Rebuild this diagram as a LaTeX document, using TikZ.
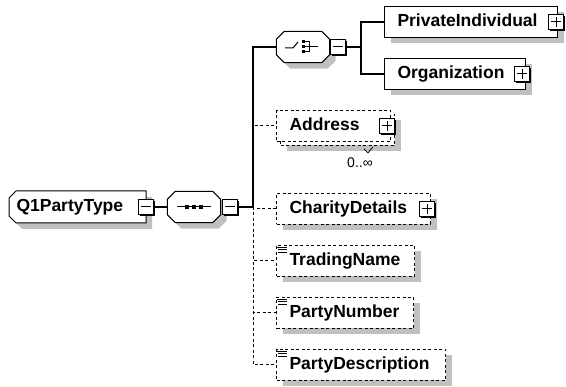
\documentclass[tikz,border=0pt]{standalone}
\usepackage{fontspec}
\setmainfont{Liberation Sans}
\usetikzlibrary{shadows,backgrounds}

\definecolor{shadowGray}{RGB}{192,192,192}

\tikzset{
  boxbase/.style={draw, fill=white, line width=1pt, rectangle, anchor=west,
    minimum height=31pt, inner xsep=13pt, inner ysep=0pt, align=left,
    text height=12.5pt, text depth=3.5pt, font=\bfseries\fontsize{17.5}{19}\selectfont},
  elem/.style={boxbase, general shadow={fill=shadowGray, shadow xshift=6pt, shadow yshift=-6pt}},
  optelem/.style={elem, dash pattern=on 3pt off 2.5pt},
  multielem/.style={boxbase, dash pattern=on 3pt off 2.5pt,
    general shadow={fill=shadowGray, shadow xshift=10pt, shadow yshift=-10pt},
    general shadow={draw, fill=white, shadow xshift=4pt, shadow yshift=-4pt}},
  typebox/.style={boxbase, draw=none, fill=none, inner xsep=7pt},
  compbox/.style={rectangle, minimum width=53pt, minimum height=31pt, inner sep=0pt},
  compshape/.style={draw, fill=white, line width=1pt,
    general shadow={fill=shadowGray, shadow xshift=6pt, shadow yshift=-6pt}},
  pmbox/.style={draw, fill=white, line width=1pt, minimum size=14.5pt, inner sep=0pt,
    general shadow={fill=black, shadow xshift=1.5pt, shadow yshift=-1.5pt}},
  minusbox/.style={pmbox, path picture={
    \draw ([xshift=2.5pt]path picture bounding box.west) -- ([xshift=-2.5pt]path picture bounding box.east);}},
  plusbox/.style={pmbox, path picture={
    \draw ([xshift=2.5pt]path picture bounding box.west) -- ([xshift=-2.5pt]path picture bounding box.east);
    \draw ([yshift=-2.5pt]path picture bounding box.north) -- ([yshift=2.5pt]path picture bounding box.south);}},
  conn/.style={line width=1.2pt},
  optconn/.style={line width=1pt, dash pattern=on 3pt off 2.5pt}
}

% outline with cut corners: node, left cut, right cut
\newcommand\octagon[3]{%
  \draw[compshape] ([xshift=#2]#1.north west) -- ([xshift=-#3]#1.north east)
    -- ([yshift=-#3]#1.north east) -- ([yshift=#3]#1.south east)
    -- ([xshift=-#3]#1.south east) -- ([xshift=#2]#1.south west)
    -- ([yshift=#2]#1.south west) -- ([yshift=-#2]#1.north west) -- cycle;}

% text content mark in the top left corner
\newcommand\txtmark[1]{%
  \draw[line width=0.8pt] ([shift={(1pt,-2pt)}]#1.north west) -- ++(10,0);
  \draw[line width=0.8pt] ([shift={(2pt,-4.5pt)}]#1.north west) -- ++(9,0);
  \draw[line width=0.8pt] ([shift={(2pt,-7pt)}]#1.north west) -- ++(9,0);}

\begin{document}
\begin{tikzpicture}[x=1pt, y=-1pt]
  \useasboundingbox (0,0) rectangle (566,387);
  % Root type
  \node[typebox, text width=122pt] (q1) at (9,207) {Q1PartyType};
  \begin{pgfonlayer}{background}
    \octagon{q1}{7pt}{0pt}
  \end{pgfonlayer}
  \node[minusbox] (q1m) at (q1.east) {};
  % Sequence
  \node[compbox] (seq) at (194,207) {};
  \octagon{seq}{8pt}{8pt}
  \draw[line width=1pt] (seq.center) ++(-17,0) -- ++(34,0);
  \fill (seq.center) ++(-9,-2) rectangle ++(4,4);
  \fill (seq.center) ++(-2,-2) rectangle ++(4,4);
  \fill (seq.center) ++(5,-2) rectangle ++(4,4);
  \node[minusbox] (seqm) at (230,207) {};
  \coordinate (bus) at (253,207);
  % Choice
  \node[compbox] (choice) at (303,47) {};
  \octagon{choice}{8pt}{8pt}
  \draw[line width=1pt] (choice.center) ++(-18,1) -- ++(8,0) -- ++(5,-6);
  \fill (choice.center) ++(-1,-6.5) rectangle ++(3,3);
  \fill (choice.center) ++(-1,-1.5) rectangle ++(3,3);
  \fill (choice.center) ++(-1,3.5) rectangle ++(3,3);
  \draw[line width=1pt] (choice.center) ++(2,-5) -- ++(4,0) -- ++(0,10) -- ++(-4,0)
    (choice.center) ++(2,0) -- ++(13,0);
  \node[minusbox] (choicem) at (338,47) {};
  \coordinate (cbus) at (361,47);
  \node[elem, text width=147pt] (priv) at (384,22) {PrivateIndividual};
  \node[plusbox] (privp) at ([xshift=-2pt]priv.east) {};
  \node[elem, text width=115pt] (org) at (384,74) {Organization};
  \node[plusbox] (orgp) at ([xshift=-4pt]org.east) {};
  % Sequence children
  \node[multielem, text width=88pt] (addr) at (276,126) {Address};
  \node[plusbox] (addrp) at ([xshift=-4pt]addr.east) {};
  \node[font=\fontsize{14}{16}\selectfont, inner sep=0pt] (addrocc) at (360,163) {0..∞};
  \draw[line width=0.8pt] (addrocc.north) ++(4,-9) -- ++(4,4) -- ++(5,-6);
  \node[optelem, text width=128pt] (charity) at (276,209) {CharityDetails};
  \node[plusbox] (charityp) at ([xshift=-4pt]charity.east) {};
  \node[optelem, text width=112pt] (tn) at (276,261) {TradingName};
  \txtmark{tn}
  \node[optelem, text width=111pt] (pn) at (276,313) {PartyNumber};
  \txtmark{pn}
  \node[optelem, text width=143pt] (pd) at (276,365) {PartyDescription};
  \txtmark{pd}
  % Connectors
  \draw[conn] (q1m) -- (seq);
  \draw[conn] (seqm) -- (bus);
  \draw[optconn] (bus) |- (addr.west);
  \draw[optconn] (bus) |- (charity.west);
  \draw[optconn] (bus) |- (tn.west);
  \draw[optconn] (bus) |- (pn.west);
  \draw[optconn] (bus) |- (pd.west);
  \draw[conn] (bus) |- (choice.west);
  \draw[conn] (choicem) -- (cbus);
  \draw[conn] (cbus) |- (priv.west);
  \draw[conn] (cbus) |- (org.west);
\end{tikzpicture}
\end{document}
